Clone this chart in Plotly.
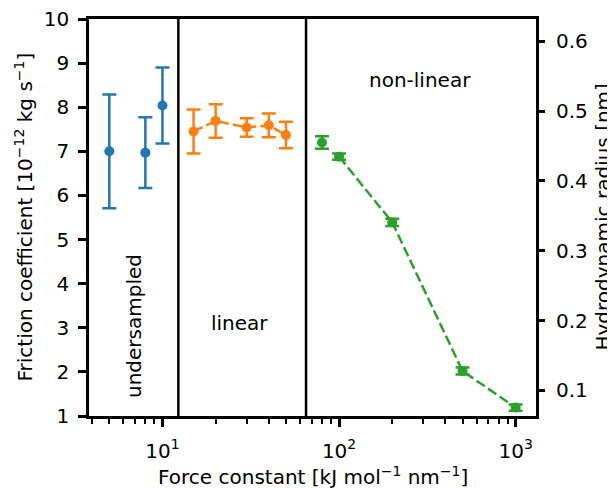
import plotly.graph_objects as go
import numpy as np

# Data
under_x = [5, 8, 10]
under_y = [7.00, 6.97, 8.04]
under_err = [1.29, 0.80, 0.86]

lin_x = [15, 20, 30, 40, 50]
lin_y = [7.45, 7.69, 7.54, 7.59, 7.37]
lin_err = [0.50, 0.38, 0.21, 0.27, 0.30]

nl0_x = [80]
nl0_y = [7.20]
nl0_err = [0.14]

nl_x = [100, 200, 500, 1000]
nl_y = [6.88, 5.39, 2.02, 1.19]
nl_err = [0.07, 0.08, 0.08, 0.07]

region_bounds = [12.3, 65]
region_labels = ["undersampled", "linear", "non-linear"]

x_ticks = [10, 100, 1000]
x_ticktext = ["10<sup>1</sup>", "10<sup>2</sup>", "10<sup>3</sup>"]
y_ticks = list(range(1, 11))
y2_ticks = [0.1, 0.2, 0.3, 0.4, 0.5, 0.6]
y2_ticktext = ["0.1", "0.2", "0.3", "0.4", "0.5", "0.6"]

BLUE = "#1f77b4"
ORANGE = "#ff7f0e"
GREEN = "#2ca02c"
FONT = "DejaVu Sans"

fig = go.Figure()

def add_series(x, y, err, color, line):
    fig.add_trace(go.Scatter(
        x=x, y=y, mode="lines+markers" if line else "markers",
        marker=dict(color=color, size=10),
        line=dict(color=color, width=2.5, dash="10px,4px"),
        error_y=dict(type="data", array=err, visible=True, color=color,
                     thickness=2.5, width=7),
        showlegend=False, cliponaxis=False,
    ))

add_series(under_x, under_y, under_err, BLUE, False)
add_series(lin_x, lin_y, lin_err, ORANGE, True)
add_series(nl0_x, nl0_y, nl0_err, GREEN, False)
add_series(nl_x, nl_y, nl_err, GREEN, True)

for b in region_bounds:
    fig.add_trace(go.Scatter(x=[b, b], y=[1, 10], mode="lines",
                             line=dict(color="black", width=2.5),
                             showlegend=False, hoverinfo="skip"))

# dummy trace for secondary axis
fig.add_trace(go.Scatter(x=[None], y=[None], yaxis="y2", showlegend=False))

tf = dict(size=20, color="black", family=FONT)
fig.add_annotation(x=np.log10(6.9), y=3.04, xref="x", yref="y", text=region_labels[0],
                   textangle=-90, showarrow=False, font=tf)
fig.add_annotation(x=np.log10(27.4), y=3.11, xref="x", yref="y", text=region_labels[1],
                   showarrow=False, font=tf)
fig.add_annotation(x=np.log10(287), y=8.62, xref="x", yref="y", text=region_labels[2],
                   showarrow=False, font=tf)

# axis titles
fig.add_annotation(x=0.5, y=0, xref="paper", yref="paper", yanchor="middle",
                   yshift=-60, text="Force constant [kJ mol<sup>−1</sup> nm<sup>−1</sup>]",
                   showarrow=False, font=tf)
fig.add_annotation(x=0, y=0.5, xref="paper", yref="paper", xanchor="center",
                   xshift=-66, textangle=-90,
                   text="Friction coefficient [10<sup>−12</sup> kg s<sup>−1</sup>]",
                   showarrow=False, font=tf)
fig.add_annotation(x=1, y=0.5, xref="paper", yref="paper", xanchor="center",
                   xshift=66, textangle=-90, text="Hydrodynamic radius [nm]",
                   showarrow=False, font=tf)

minor_vals = [m * 10 ** e for e in range(0, 4) for m in range(2, 10)]

fig.update_layout(
    width=607, height=481,
    margin=dict(l=81, r=79, t=11, b=73),
    paper_bgcolor="white", plot_bgcolor="white",
    font=dict(family=FONT, size=20, color="black"),
    xaxis=dict(
        type="log", range=[0.584, 3.115], automargin=False,
        tickvals=x_ticks, ticktext=x_ticktext, ticklabeloverflow="allow",
        ticklabelstandoff=7,
        ticks="outside", ticklen=8, tickwidth=2.5, tickcolor="black",
        minor=dict(ticks="outside", ticklen=5, tickwidth=1.5, tickcolor="black",
                   tickvals=minor_vals, showgrid=False),
        showline=True, linecolor="black", linewidth=2.5, mirror=True,
        showgrid=False, zeroline=False,
    ),
    yaxis=dict(
        range=[1, 10], tickvals=y_ticks, automargin=False, ticklabeloverflow="allow",
        ticklabelstandoff=5,
        ticks="outside", ticklen=8, tickwidth=2.5, tickcolor="black",
        showline=True, linecolor="black", linewidth=2.5, mirror=True,
        showgrid=False, zeroline=False,
    ),
    yaxis2=dict(
        overlaying="y", side="right", range=[0.0632, 0.632], automargin=False,
        tickvals=y2_ticks, ticktext=y2_ticktext, ticklabeloverflow="allow",
        ticklabelstandoff=7,
        ticks="outside", ticklen=8, tickwidth=2.5, tickcolor="black",
        showline=False, showgrid=False, zeroline=False,
    ),
)

fig.write_html("out.html")
